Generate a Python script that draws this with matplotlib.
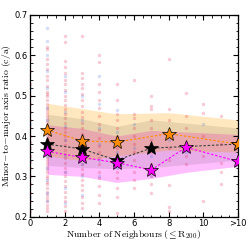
import matplotlib
matplotlib.use("Agg")
import matplotlib.pyplot as plt
from matplotlib.ticker import MultipleLocator

# per-halo scatter (neighbour count -> c/a values)
red_pts = {
    0: [0.215, 0.24, 0.26, 0.28, 0.3, 0.32, 0.335, 0.35, 0.37, 0.385, 0.4, 0.42,
        0.44, 0.46, 0.48, 0.5, 0.53, 0.56, 0.59],
    1: [0.62, 0.615, 0.59, 0.578, 0.565, 0.55, 0.54, 0.525, 0.51, 0.505, 0.498,
        0.49, 0.48, 0.472, 0.465, 0.458, 0.45, 0.442, 0.435, 0.428, 0.42, 0.413,
        0.405, 0.398, 0.39, 0.384, 0.376, 0.37, 0.362, 0.355, 0.347, 0.34, 0.332,
        0.325, 0.318, 0.31, 0.302, 0.295, 0.287, 0.28, 0.27, 0.262, 0.255, 0.246,
        0.238, 0.23, 0.222, 0.214],
    2: [0.648, 0.632, 0.585, 0.57, 0.555, 0.54, 0.53, 0.515, 0.5, 0.49, 0.478,
        0.466, 0.455, 0.445, 0.432, 0.42, 0.41, 0.4, 0.39, 0.378, 0.366, 0.356,
        0.345, 0.333, 0.322, 0.31, 0.3, 0.288, 0.275, 0.262, 0.25, 0.238, 0.226,
        0.214],
    3: [0.648, 0.555, 0.545, 0.53, 0.52, 0.505, 0.49, 0.475, 0.46, 0.447, 0.433,
        0.42, 0.405, 0.392, 0.38, 0.368, 0.355, 0.342, 0.33, 0.318, 0.305, 0.29,
        0.278, 0.265, 0.25, 0.235, 0.222],
    4: [0.6, 0.583, 0.53, 0.51, 0.49, 0.47, 0.45, 0.43, 0.415, 0.395, 0.375, 0.36,
        0.345, 0.33, 0.31, 0.295, 0.275, 0.255, 0.235],
    5: [0.53, 0.49, 0.455, 0.44, 0.42, 0.4, 0.385, 0.37, 0.35, 0.33, 0.31, 0.295,
        0.27, 0.25, 0.21],
    6: [0.54, 0.455, 0.445, 0.42, 0.4, 0.38, 0.36, 0.34, 0.31, 0.29, 0.27],
    7: [0.5, 0.475, 0.468, 0.44, 0.42, 0.39, 0.36, 0.33, 0.3, 0.28, 0.26],
    8: [0.59, 0.468, 0.44, 0.4, 0.37, 0.34, 0.278, 0.225, 0.215],
    9: [0.506, 0.45, 0.42, 0.38, 0.35, 0.33],
    10: [0.48, 0.456, 0.4, 0.35, 0.24],
    11: [0.45, 0.38, 0.334, 0.31, 0.28],
}
blue_pts = {
    0: [0.25, 0.34, 0.43, 0.52],
    1: [0.668, 0.635, 0.6, 0.56, 0.52, 0.47, 0.44, 0.41, 0.38, 0.35, 0.32, 0.29,
        0.26, 0.24],
    2: [0.55, 0.51, 0.46, 0.425, 0.39, 0.35, 0.31, 0.27, 0.235],
    3: [0.5, 0.44, 0.4, 0.36, 0.33, 0.3, 0.255],
    4: [0.55, 0.48, 0.42, 0.38, 0.34, 0.3],
    5: [0.465, 0.41, 0.36, 0.32],
    6: [0.43, 0.37],
    7: [0.35, 0.3],
    8: [0.39],
    9: [0.36],
    10: [0.43],
}

# medians and bands
orange_x = [1, 3, 5, 8, 12]
orange_med = [0.415, 0.388, 0.385, 0.406, 0.38]
orange_hi = [0.481, 0.468, 0.455, 0.458, 0.44]
orange_lo = [0.351, 0.339, 0.351, 0.365, 0.36]

black_x = [1, 3, 5, 7, 12]
black_med = [0.38, 0.368, 0.34, 0.37, 0.38]
black_hi = [0.454, 0.443, 0.424, 0.44, 0.42]
black_lo = [0.327, 0.322, 0.319, 0.322, 0.34]

mag_x = [1, 3, 5, 7, 9, 12]
mag_med = [0.362, 0.347, 0.334, 0.316, 0.372, 0.337]
mag_hi = [0.428, 0.419, 0.4, 0.414, 0.41, 0.404]
mag_lo = [0.305, 0.3, 0.285, 0.295, 0.31, 0.325]

xticks = [0, 2, 4, 6, 8, 10, 12]
xticklabels = ["0", "2", "4", "6", "8", "10", ">10"]

plt.rcParams["mathtext.fontset"] = "cm"
plt.rcParams["font.size"] = 6

fig = plt.figure(figsize=(2.49, 2.40), dpi=100)
ax = fig.add_axes([0.12, 0.097, 0.836, 0.8405])

ax.fill_between(mag_x, mag_lo, mag_hi, color="magenta", alpha=0.25, lw=0, zorder=1)
ax.fill_between(orange_x, orange_lo, orange_hi, color="orange", alpha=0.25, lw=0, zorder=1)
ax.fill_between(black_x, black_lo, black_hi, color="k", alpha=0.09, lw=0, zorder=1)

for n, vals in red_pts.items():
    ax.scatter([n] * len(vals), vals, s=6, color="crimson", alpha=0.22, lw=0, zorder=2)
for n, vals in blue_pts.items():
    ax.scatter([n] * len(vals), vals, s=6, color="royalblue", alpha=0.22, lw=0, zorder=2)

dash = (0, (2.2, 1.6))
ax.plot(black_x, black_med, ls=dash, lw=0.8, color="0.25", zorder=3)
ax.plot(black_x, black_med, ls="none", marker="*", ms=10, mfc="k", mec="k", mew=0.5, zorder=4)
ax.plot(mag_x, mag_med, ls=dash, lw=0.8, color="magenta", zorder=5)
ax.plot(mag_x, mag_med, ls="none", marker="*", ms=10, mfc="magenta", mec="k", mew=0.5, zorder=6)
ax.plot(orange_x, orange_med, ls=dash, lw=0.8, color="darkorange", zorder=7)
ax.plot(orange_x, orange_med, ls="none", marker="*", ms=10, mfc="darkorange", mec="k", mew=0.5, zorder=8)

ax.set_xlim(0, 12)
ax.set_ylim(0.2, 0.7)
ax.set_xticks(xticks)
ax.set_xticklabels(xticklabels)
ax.set_yticks([0.2, 0.3, 0.4, 0.5, 0.6, 0.7])
ax.xaxis.set_minor_locator(MultipleLocator(0.5))
ax.yaxis.set_minor_locator(MultipleLocator(0.02))
ax.tick_params(which="both", direction="in", top=True, right=True, labelsize=6, pad=1.5)
ax.tick_params(which="major", length=3.5, width=0.8)
ax.tick_params(which="minor", length=1.8, width=0.6)
for sp in ax.spines.values():
    sp.set_linewidth(0.9)

ax.set_xlabel(r"$\mathrm{Number\ of\ Neighbours\,(\leq R_{200})}$", fontsize=7, labelpad=0.5)
ax.set_ylabel(r"$\mathrm{Minor\!-\!to\!-\!major\ axis\ ratio\ (c/a)}$", fontsize=7, labelpad=1)

fig.savefig("out.png", dpi=100)
